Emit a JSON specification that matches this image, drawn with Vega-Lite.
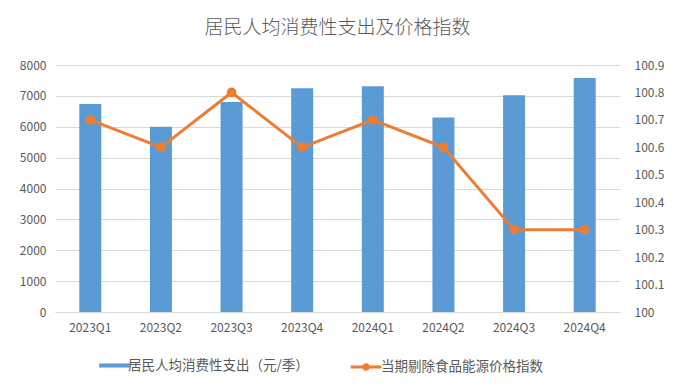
{
  "$schema": "https://vega.github.io/schema/vega-lite/v6.json",
  "width": 565,
  "height": 247,
  "autosize": {"type": "none"},
  "padding": {"left": 55, "top": 65, "right": 60, "bottom": 78},
  "background": "white",
  "title": {
    "text": "居民人均消费性支出及价格指数",
    "font": "Noto Sans CJK SC",
    "fontSize": 19,
    "fontWeight": 300,
    "color": "#595959",
    "anchor": "middle",
    "offset": 21
  },
  "config": {
    "view": {"stroke": null},
    "font": "Noto Sans CJK SC",
    "axis": {
      "labelFont": "Noto Sans CJK SC",
      "labelFontSize": 12,
      "labelColor": "#595959",
      "ticks": false,
      "domain": false,
      "gridColor": "#D9D9D9",
      "gridWidth": 1,
      "title": null
    },
    "legend": {
      "labelFont": "Noto Sans CJK SC",
      "labelFontSize": 13.5,
      "labelColor": "#595959",
      "labelLimit": 400,
      "labelOffset": 3
    }
  },
  "data": {
    "values": [
      {"q": "2023Q1", "spend": 6740, "idx": 100.7},
      {"q": "2023Q2", "spend": 6000, "idx": 100.6},
      {"q": "2023Q3", "spend": 6800, "idx": 100.8},
      {"q": "2023Q4", "spend": 7250, "idx": 100.6},
      {"q": "2024Q1", "spend": 7310, "idx": 100.7},
      {"q": "2024Q2", "spend": 6300, "idx": 100.6},
      {"q": "2024Q3", "spend": 7020, "idx": 100.3},
      {"q": "2024Q4", "spend": 7580, "idx": 100.3}
    ]
  },
  "encoding": {
    "x": {
      "field": "q",
      "type": "ordinal",
      "sort": null,
      "scale": {"paddingInner": 0, "paddingOuter": 0},
      "axis": {"labelAngle": 0, "labelPadding": 10, "domain": true, "domainColor": "#D9D9D9", "grid": false}
    }
  },
  "layer": [
    {
      "mark": {"type": "bar", "size": 22, "color": "#5B9BD5"},
      "transform": [{"calculate": "'居民人均消费性支出（元/季）'", "as": "s1"}],
      "encoding": {
        "y": {
          "field": "spend",
          "type": "quantitative",
          "scale": {"domain": [0, 8000], "nice": false},
          "axis": {"values": [0, 1000, 2000, 3000, 4000, 5000, 6000, 7000, 8000], "format": "d", "labelPadding": 9, "grid": true}
        },
        "fill": {
          "field": "s1",
          "type": "nominal",
          "scale": {"range": ["#5B9BD5"]},
          "legend": {
            "title": null,
            "orient": "none",
            "legendX": 49,
            "legendY": 290,
            "symbolType": "M-1.5,-0.2H1.5V0.2H-1.5Z",
            "symbolSize": 420,
            "symbolStrokeWidth": 0
          }
        }
      }
    },
    {
      "mark": {"type": "line", "color": "#ED7D31", "strokeWidth": 3, "point": {"filled": true, "size": 60, "color": "#ED7D31"}},
      "transform": [{"calculate": "'当期剔除食品能源价格指数'", "as": "s2"}],
      "encoding": {
        "y": {
          "field": "idx",
          "type": "quantitative",
          "scale": {"domain": [100, 100.9], "nice": false, "zero": false},
          "axis": {"orient": "right", "values": [100, 100.1, 100.2, 100.3, 100.4, 100.5, 100.6, 100.7, 100.8, 100.9], "format": "~f", "labelPadding": 14, "grid": false}
        },
        "stroke": {
          "field": "s2",
          "type": "nominal",
          "scale": {"range": ["#ED7D31"]},
          "legend": {
            "title": null,
            "orient": "none",
            "legendX": 299,
            "legendY": 290,
            "symbolType": "M-1.5,0H1.5M0.22,0A0.22,0.22 0 1,1 -0.22,0A0.22,0.22 0 1,1 0.22,0Z",
            "symbolSize": 420,
            "symbolFillColor": "#ED7D31",
            "symbolStrokeWidth": 3
          }
        }
      }
    }
  ],
  "resolve": {"scale": {"y": "independent", "fill": "independent", "stroke": "independent"}}
}
